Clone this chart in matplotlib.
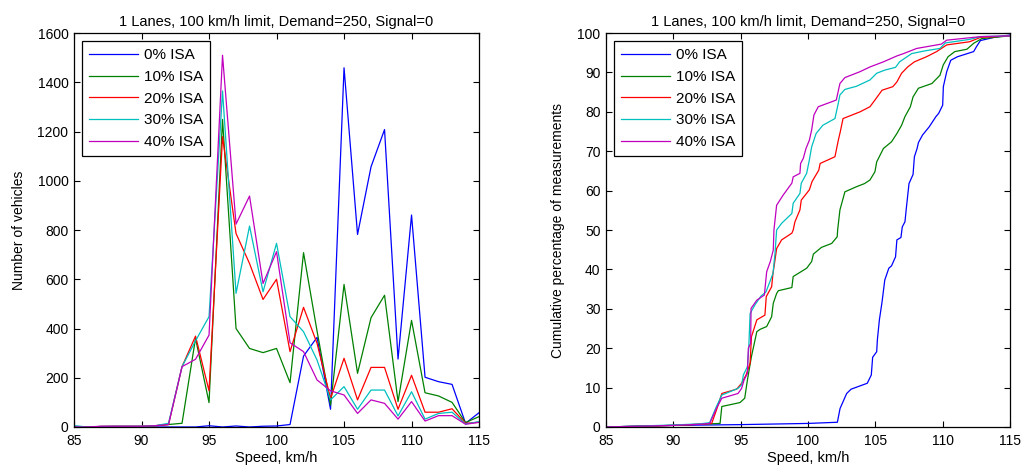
import matplotlib
matplotlib.use('Agg')
import matplotlib.pyplot as plt

plt.rcParams['font.family'] = ['Liberation Sans', 'DejaVu Sans']

# Histogram data: vehicles per 1 km/h speed bin
speeds = list(range(85, 116))
labels = ['0% ISA', '10% ISA', '20% ISA', '30% ISA', '40% ISA']
colors = ['#0000FF', '#008000', '#FF0000', '#00BFBF', '#BF00BF']

count_0 = [3, 0, 0, 0, 0, 0, 0, 0, 0, 0, 5, 0, 4, 0, 3, 4, 10, 288, 364, 72,
           1459, 782, 1057, 1208, 276, 861, 202, 184, 173, 15, 58]
count_10 = [0, 0, 2, 2, 2, 2, 5, 10, 15, 360, 99, 1249, 400, 319, 302, 319, 180,
            708, 390, 89, 579, 218, 444, 535, 103, 433, 139, 126, 100, 18, 42]
count_20 = [0, 0, 2, 3, 3, 3, 5, 10, 245, 369, 147, 1179, 786, 664, 518, 600, 306,
            486, 340, 116, 279, 110, 242, 242, 72, 210, 60, 60, 74, 15, 19]
count_30 = [5, 0, 2, 3, 3, 3, 5, 15, 245, 350, 448, 1365, 543, 816, 549, 746, 448,
            387, 272, 110, 164, 72, 150, 150, 45, 143, 32, 55, 60, 12, 22]
count_40 = [0, 0, 3, 3, 3, 3, 5, 10, 245, 275, 373, 1510, 824, 938, 583, 712, 342,
            306, 191, 147, 130, 55, 110, 96, 32, 103, 24, 46, 46, 11, 19]

# Cumulative curves (speed, percentage)
cum_s_0 = [85, 90, 95, 100, 102.18, 102.38, 102.87, 103.2, 104.4, 104.7, 104.8, 105.1,
           105.15, 105.3, 105.5, 105.7, 106.0, 106.2, 106.5, 106.6, 106.9, 107.0, 107.2,
           107.3, 107.5, 107.8, 107.9, 108.1, 108.2, 108.5, 109.0, 109.5, 109.7, 110.0,
           110.05, 110.3, 110.6, 111.1, 112.3, 112.5, 112.8, 113.8, 115]
cum_p_0 = [0, 0.4, 0.6, 0.9, 1.2, 4.7, 8.5, 9.6, 11.1, 13.2, 17.7, 19.1, 22.1, 27.2,
           31.8, 37.3, 40.3, 40.9, 43.2, 47.5, 48.1, 50.8, 52.1, 55.5, 61.8, 64.1, 68.6,
           70.7, 72.2, 74.1, 76.2, 78.8, 79.6, 81.7, 86.4, 90.2, 93.1, 94.0, 95.3, 96.5,
           98.1, 98.9, 99.5]
cum_s_10 = [85, 90, 92, 93.47, 93.6, 94.95, 95.3, 95.5, 95.8, 96.2, 96.45, 96.93, 97.3,
            97.42, 97.67, 97.8, 98.8, 98.9, 99.9, 100.27, 100.4, 101.0, 101.76, 102.17,
            102.2, 102.37, 102.74, 103.6, 104.2, 104.6, 104.97, 105.1, 105.6, 106.2,
            106.6, 106.95, 107.2, 107.6, 107.8, 108.2, 109.2, 109.8, 110.04, 110.4,
            110.9, 111.8, 112.3, 112.9, 115]
cum_p_10 = [0, 0.4, 0.7, 0.9, 5.2, 6.2, 7.3, 11.9, 17.9, 24.2, 24.8, 25.5, 28.0, 31.4,
            33.9, 34.6, 35.4, 38.2, 40.3, 42.0, 43.9, 45.6, 46.6, 48.3, 50, 55.1, 59.7,
            61.0, 61.8, 62.7, 64.8, 67.3, 70.7, 72.4, 74.5, 76.6, 78.8, 81.3, 83.8, 86.0,
            87.2, 89.3, 91.9, 94.0, 95.3, 95.9, 97.4, 98.6, 99.3]
cum_s_20 = [85, 90, 92, 92.85, 93.2, 93.6, 94.7, 95.07, 95.4, 95.7, 95.8, 96.2, 96.8,
            96.9, 97.3, 97.4, 97.55, 97.67, 98.04, 98.8, 98.9, 99.03, 99.4, 99.5, 100.1,
            100.3, 100.8, 100.9, 102.0, 102.25, 102.4, 102.6, 103.86, 104.6, 104.97,
            105.5, 106.3, 106.6, 106.95, 107.4, 107.9, 108.8, 109.55, 110.3, 112.0,
            112.8, 115]
cum_p_20 = [0, 0.4, 0.7, 0.9, 4.3, 8.5, 9.6, 11.1, 13.2, 16.2, 22.9, 27.2, 28.4, 33.1,
            35.6, 39.0, 42.4, 45.3, 47.5, 49.2, 50, 52.1, 55.1, 57.6, 60.2, 62.3, 65.2,
            66.9, 68.6, 72.8, 75.0, 78.3, 80.0, 81.3, 83.0, 85.5, 86.4, 87.6, 89.8, 91.4,
            92.7, 94.0, 95.3, 97.0, 97.8, 98.9, 99.3]
cum_s_30 = [85, 90, 92, 92.7, 93.2, 93.6, 94.8, 95.07, 95.2, 95.5, 95.6, 95.7, 96.06,
            96.5, 96.88, 97.17, 97.4, 97.55, 97.67, 98.04, 98.8, 98.9, 99.4, 99.5, 99.9,
            100.1, 100.27, 100.6, 101.1, 102.0, 102.25, 102.37, 102.74, 103.6, 104.6,
            105.1, 105.7, 106.5, 106.8, 107.7, 108.7, 109.8, 110.2, 112.0, 112.8, 115]
cum_p_30 = [0, 0.5, 0.8, 1.1, 5.2, 8.1, 9.8, 10.7, 13.2, 15.3, 20.0, 28.8, 31.0, 33.2,
            34.3, 36.9, 39.0, 44.1, 50.0, 51.7, 54.2, 56.8, 59.3, 61.9, 64.4, 67.8, 71.1,
            74.5, 76.6, 78.3, 82.2, 84.3, 85.7, 86.5, 88.1, 89.8, 90.6, 91.3, 92.7, 94.8,
            95.5, 96.1, 97.5, 98.4, 99.1, 99.3]
cum_s_40 = [85, 90, 92, 92.7, 93.2, 93.6, 94.8, 95.07, 95.25, 95.5, 95.57, 95.74, 95.77,
            96.2, 96.76, 96.93, 97.2, 97.42, 97.47, 97.67, 98.16, 98.8, 98.9, 99.4, 99.45,
            99.65, 99.85, 100.1, 100.27, 100.44, 100.76, 102.1, 102.37, 102.74, 103.86,
            104.6, 105.6, 106.6, 107.1, 108.07, 109.9, 110.3, 112.8, 115]
cum_p_40 = [0, 0.4, 0.7, 0.9, 4.7, 7.3, 8.5, 9.8, 11.9, 13.6, 20.0, 21.2, 30.1, 32.2,
            33.5, 39.4, 42.0, 44.9, 50.0, 56.3, 58.9, 61.9, 63.5, 64.4, 66.9, 68.2, 70.7,
            72.8, 75.4, 79.2, 81.3, 83.0, 87.2, 88.7, 90.2, 91.4, 92.7, 94.2, 94.8, 96.1,
            97.2, 98.2, 99.1, 99.3]

title = '1 Lanes, 100 km/h limit, Demand=250, Signal=0'

fig = plt.figure(figsize=(10.28, 4.74), dpi=100)
ax1 = fig.add_axes([0.072, 0.0992, 0.394, 0.831])
ax2 = fig.add_axes([0.5895, 0.0992, 0.393, 0.831])

counts = [count_0, count_10, count_20, count_30, count_40]
for c, col, lab in zip(counts, colors, labels):
    ax1.plot(speeds, c, color=col, lw=0.9, label=lab)

cums = [(cum_s_0, cum_p_0), (cum_s_10, cum_p_10), (cum_s_20, cum_p_20),
        (cum_s_30, cum_p_30), (cum_s_40, cum_p_40)]
for (s, p), col, lab in zip(cums, colors, labels):
    ax2.plot(s, p, color=col, lw=0.9, label=lab)

ax1.set_ylim(0, 1600)
ax1.set_yticks(range(0, 1601, 200))
ax1.set_ylabel('Number of vehicles', fontsize=10, labelpad=8)
ax2.set_ylim(0, 100)
ax2.set_yticks(range(0, 101, 10))
ax2.set_ylabel('Cumulative percentage of measurements', fontsize=10, labelpad=9)

for ax in (ax1, ax2):
    ax.set_xlim(85, 115)
    ax.set_xticks(range(85, 116, 5))
    ax.set_xlabel('Speed, km/h', fontsize=10.5, labelpad=2)
    ax.set_title(title, fontsize=10.5, pad=5)
    ax.tick_params(direction='in', top=True, right=True, labelsize=10,
                   length=4, width=0.8)
    ax.tick_params(axis='x', pad=5)
    ax.tick_params(axis='y', pad=4)
    for sp in ax.spines.values():
        sp.set_linewidth(0.9)
    leg = ax.legend(loc='upper left', fontsize=11, handlelength=3.2,
                    handletextpad=0.35, fancybox=False, framealpha=1,
                    edgecolor='black', borderaxespad=0.55, labelspacing=0.5,
                    borderpad=0.45)
    leg.get_frame().set_linewidth(0.9)

fig.savefig('out.png', dpi=100, facecolor='white')
